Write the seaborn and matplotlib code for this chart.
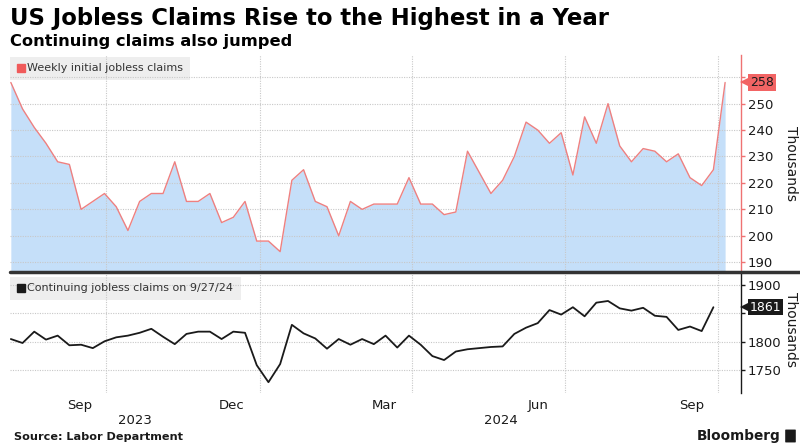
import pandas as pd
import matplotlib
matplotlib.use("Agg")
import matplotlib.pyplot as plt
import matplotlib.dates as mdates
import matplotlib.ticker as mticker
import matplotlib.transforms as mtransforms
from matplotlib.lines import Line2D
from matplotlib.patches import Rectangle, FancyBboxPatch
import seaborn as sns

# ---- data (thousands, weekly) ----
first_week = "2023-08-05"
initial_claims = [258, 248, 241, 235, 228, 227, 210, 213, 216, 211,
                  202, 213, 216, 216, 228, 213, 213, 216, 205, 207,
                  213, 198, 198, 194, 221, 225, 213, 211, 200, 213,
                  210, 212, 212, 212, 222, 212, 212, 208, 209, 232,
                  224, 216, 221, 230, 243, 240, 235, 239, 223, 245,
                  235, 250, 234, 228, 233, 232, 228, 231, 222, 219,
                  225, 258]
continuing_claims = [1805, 1798, 1818, 1804, 1811, 1794, 1795, 1789, 1801, 1808,
                     1811, 1816, 1823, 1809, 1796, 1814, 1818, 1818, 1805, 1818,
                     1816, 1759, 1729, 1761, 1830, 1815, 1806, 1788, 1805, 1795,
                     1805, 1796, 1811, 1790, 1811, 1795, 1775, 1768, 1783, 1787,
                     1789, 1791, 1792, 1814, 1825, 1833, 1856, 1848, 1861, 1845,
                     1869, 1872, 1859, 1855, 1860, 1846, 1844, 1821, 1827, 1819,
                     1861]
initial_ticks = [190, 200, 210, 220, 230, 240, 250, 260]
initial_tick_labels = ["190", "200", "210", "220", "230", "240", "250", ""]
continuing_ticks = [1750, 1800, 1850, 1900]
continuing_tick_labels = ["1750", "1800", "", "1900"]
month_labels = ["Sep", "Dec", "Mar", "Jun", "Sep"]
month_label_dates = ["2023-09-15", "2023-12-15", "2024-03-15", "2024-06-15", "2024-09-15"]
quarter_starts = ["2023-10-01", "2024-01-01", "2024-04-01", "2024-07-01", "2024-10-01"]
year_labels = ["2023", "2024"]
year_label_dates = ["2023-10-18", "2024-05-24"]

df_init = pd.DataFrame({"week": pd.date_range(first_week, periods=len(initial_claims), freq="7D"),
                        "claims": initial_claims})
df_cont = pd.DataFrame({"week": pd.date_range(first_week, periods=len(continuing_claims), freq="7D"),
                        "claims": continuing_claims})

sns.set_theme(style="white")
plt.rcParams["font.family"] = ["DejaVu Sans"]

W, H = 800, 444
fig = plt.figure(figsize=(8, 4.44), dpi=100)
fig.patch.set_facecolor("white")

def fx(px):
    return px / W

def fy(py):
    return 1 - py / H

def dnum(d):
    return mdates.date2num(pd.Timestamp(d))

left, right = 10, 741
ax1 = fig.add_axes([fx(left), fy(272), fx(right - left), fy(55) - fy(272)])
ax2 = fig.add_axes([fx(left), fy(393), fx(right - left), fy(272) - fy(393)], sharex=ax1)

RED_LINE = "#ee8080"
RED_AXIS = "#ef7272"
FILL = "#c5dff9"
GRID = "#c8c8c8"
INK = "#1a1a1a"

# ---- top panel: initial claims ----
ax1.fill_between(df_init["week"], 150, df_init["claims"], color=FILL, lw=0, zorder=1)
sns.lineplot(data=df_init, x="week", y="claims", ax=ax1, color=RED_LINE, linewidth=1.0, zorder=3)
ax1.set_ylim(186.3, 268.4)
ax1.set_yticks(initial_ticks)
ax1.set_yticklabels(initial_tick_labels)

# ---- bottom panel: continuing claims ----
sns.lineplot(data=df_cont, x="week", y="claims", ax=ax2, color=INK, linewidth=1.3, zorder=3)
ax2.set_ylim(1710, 1923)
ax2.set_yticks(continuing_ticks)
ax2.set_yticklabels(continuing_tick_labels)

ax1.set_xlim(pd.Timestamp("2023-08-04 12:00"), pd.Timestamp("2024-10-14 12:00"))

for ax, spine_col in ((ax1, RED_AXIS), (ax2, INK)):
    ax.set_axisbelow(False)
    for s in ("left", "top", "bottom"):
        ax.spines[s].set_visible(False)
    ax.spines["right"].set_color(spine_col)
    ax.spines["right"].set_linewidth(1.0)
    ax.yaxis.tick_right()
    ax.tick_params(axis="y", which="major", length=3, width=1, color=spine_col, pad=2,
                   labelsize=9.5, labelcolor=INK, right=True, left=False)
    ax.set_xlabel("")
    ax.set_ylabel("")
    ax.xaxis.set_major_locator(mticker.FixedLocator([dnum(d) for d in quarter_starts]))
    ax.grid(True, axis="both", which="major", color=GRID, linestyle=(0, (1, 1.2)), linewidth=0.8)
    ax.set_facecolor("white")

ax1.tick_params(axis="x", which="both", length=0, labelbottom=False)
ax2.xaxis.set_minor_locator(mticker.FixedLocator([dnum(d) for d in month_label_dates]))
ax2.xaxis.set_minor_formatter(mticker.FixedFormatter(month_labels))
ax2.xaxis.set_major_formatter(mticker.NullFormatter())
ax2.tick_params(axis="x", which="both", length=0, pad=4, labelsize=9.5, labelcolor=INK, labelbottom=True)

# year labels below the month labels
year_tr = mtransforms.blended_transform_factory(ax2.transData, ax2.transAxes)
for lbl, d in zip(year_labels, year_label_dates):
    ax2.text(dnum(d), -0.225, lbl, transform=year_tr, ha="center", va="center", fontsize=9.5, color=INK)

# legend strips
ax1.add_patch(Rectangle((0, 1 - 25 / 217), 180 / 731, 23 / 217, transform=ax1.transAxes,
                        facecolor="#eeeeee", edgecolor="none", zorder=1.5))
ax1.plot([11 / 731], [1 - 13 / 217], marker="s", markersize=5.5, color="#f05a5a",
         transform=ax1.transAxes, clip_on=False, zorder=4)
ax1.text(17 / 731, 1 - 13 / 217, "Weekly initial jobless claims", transform=ax1.transAxes,
         ha="left", va="center", fontsize=8, color="#333333", zorder=4)

ax2.add_patch(Rectangle((0, 1 - 28 / 121), 231 / 731, 23 / 121, transform=ax2.transAxes,
                        facecolor="#eeeeee", edgecolor="none", zorder=1.5))
ax2.plot([11 / 731], [1 - 16 / 121], marker="s", markersize=5.5, color=INK,
         transform=ax2.transAxes, clip_on=False, zorder=4)
ax2.text(17 / 731, 1 - 16 / 121, "Continuing jobless claims on 9/27/24", transform=ax2.transAxes,
         ha="left", va="center", fontsize=8, color="#333333", zorder=4)

# last-value tags on the right axis
def value_tag(ax, value, fc, tc):
    tr = mtransforms.blended_transform_factory(ax.transAxes, ax.transData)
    ax.plot([1 + 5 / 731], [value], marker="<", markersize=9, color=fc, transform=tr,
            clip_on=False, zorder=6, markeredgewidth=0)
    ax.text(1 + 9 / 731, value, f"{value}", transform=tr, ha="left", va="center",
            fontsize=9, color=tc, zorder=7, clip_on=False,
            bbox=dict(boxstyle="square,pad=0.14", facecolor=fc, edgecolor=fc, linewidth=0))

value_tag(ax1, initial_claims[-1], "#f26464", INK)
value_tag(ax2, continuing_claims[-1], INK, "white")

# axis unit labels
fig.text(fx(791), fy(163), "Thousands", rotation=270, ha="center", va="center", fontsize=10, color=INK)
fig.text(fx(791), fy(330), "Thousands", rotation=270, ha="center", va="center", fontsize=10, color=INK)

# separator between the panels
fig.add_artist(Line2D([fx(10), 1.0], [fy(272), fy(272)], color="#333333", linewidth=2.5))

# titles and footer
fig.text(fx(10), fy(18), "US Jobless Claims Rise to the Highest in a Year", ha="left", va="center",
         fontsize=16.4, fontweight="bold", color="black")
fig.text(fx(10), fy(41), "Continuing claims also jumped", ha="left", va="center",
         fontsize=11.7, fontweight="bold", color="black")
fig.text(fx(14), fy(437), "Source: Labor Department", ha="left", va="center",
         fontsize=8.1, fontweight="bold", color=INK)
fig.text(fx(780), fy(436), "Bloomberg", ha="right", va="center",
         fontsize=9.8, fontweight="bold", color=INK)
fig.add_artist(FancyBboxPatch((fx(786), fy(442)), fx(9), fy(430) - fy(442),
                              boxstyle="round,pad=0.001", facecolor=INK, edgecolor="none",
                              transform=fig.transFigure))

fig.savefig("out.png", dpi=100, facecolor="white")
